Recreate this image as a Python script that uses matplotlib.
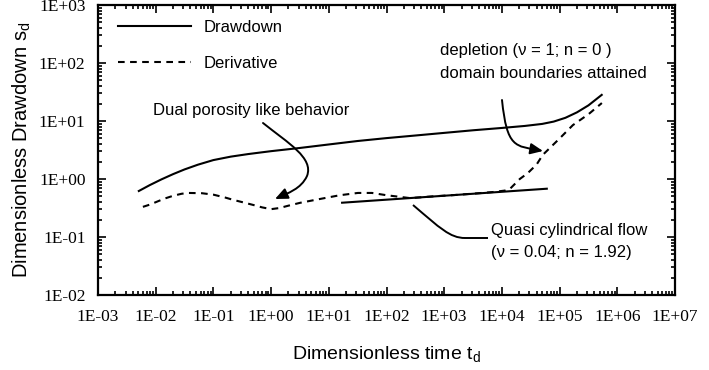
import matplotlib
matplotlib.use("Agg")
import matplotlib.pyplot as plt
from matplotlib.path import Path
from matplotlib.patches import FancyArrowPatch, PathPatch
from matplotlib.ticker import FixedLocator, FixedFormatter, LogLocator, NullFormatter

# ---------------- data ----------------
t_drawdown = [0.0051, 0.0079, 0.0126, 0.02, 0.0316, 0.054, 0.1, 0.2, 0.4,
              0.63, 1, 3.16, 10, 31.6, 100, 316, 1000, 3162, 1e4, 2.5e4, 5e4,
              7.9e4, 1.26e5, 2e5, 3.16e5, 5.37e5]
s_drawdown = [0.621, 0.785, 0.986, 1.213, 1.462, 1.766, 2.12, 2.43, 2.69,
              2.85, 3.02, 3.43, 3.94, 4.52, 5.07, 5.62, 6.24, 6.92, 7.59,
              8.22, 8.91, 9.77, 11.35, 14.1, 18.6, 28.2]

t_deriv = [0.006, 0.008, 0.01, 0.014, 0.02, 0.028, 0.036, 0.063, 0.1, 0.16,
           0.22, 0.32, 0.5, 0.7, 1.0, 1.4, 2.0, 3.2, 7, 15.5, 32, 56, 100,
           257, 630, 1600, 4000, 7000, 11200, 13800, 20400, 28000, 40000,
           51000, 1e5, 1.7e5, 3.2e5, 5.4e5]
s_deriv = [0.331, 0.363, 0.398, 0.457, 0.513, 0.556, 0.575, 0.569, 0.537,
           0.479, 0.437, 0.398, 0.355, 0.324, 0.302, 0.316, 0.347, 0.389,
           0.452, 0.525, 0.575, 0.575, 0.525, 0.468, 0.501, 0.531, 0.569,
           0.596, 0.631, 0.676, 1.0, 1.26, 1.78, 2.6, 5.0, 8.5, 13.2, 20.4]

t_quasi = [17, 60000]
s_quasi = [0.39, 0.68]

x_ticks = [1e-3, 1e-2, 1e-1, 1e0, 1e1, 1e2, 1e3, 1e4, 1e5, 1e6, 1e7]
x_ticklabels = ["1E-03", "1E-02", "1E-01", "1E+00", "1E+01", "1E+02",
                "1E+03", "1E+04", "1E+05", "1E+06", "1E+07"]
y_ticks = [1e-2, 1e-1, 1e0, 1e1, 1e2, 1e3]
y_ticklabels = ["1E-02", "1E-01", "1E+00", "1E+01", "1E+02", "1E+03"]

# ---------------- figure ----------------
W, H = 709, 370
fig = plt.figure(figsize=(W / 100, H / 100), dpi=100)
L, R, B, T = 98, 675, 295, 5
ax = fig.add_axes([L / W, 1 - B / H, (R - L) / W, (B - T) / H])

sans = "Liberation Sans"
serif = "Liberation Serif"

ax.plot(t_drawdown, s_drawdown, color="black", lw=1.5, label="Drawdown")
ax.plot(t_deriv, s_deriv, color="black", lw=1.5, ls=(0, (3.2, 2.6)),
        label="Derivative")
ax.plot(t_quasi, s_quasi, color="black", lw=1.5)

ax.set_xscale("log")
ax.set_yscale("log")
ax.set_xlim(1e-3, 1e7)
ax.set_ylim(1e-2, 1e3)

ax.xaxis.set_major_locator(FixedLocator(x_ticks))
ax.xaxis.set_major_formatter(FixedFormatter(x_ticklabels))
ax.yaxis.set_major_locator(FixedLocator(y_ticks))
ax.yaxis.set_major_formatter(FixedFormatter(y_ticklabels))
ax.xaxis.set_minor_locator(LogLocator(base=10, subs=range(2, 10), numticks=20))
ax.yaxis.set_minor_locator(LogLocator(base=10, subs=range(2, 10), numticks=20))
ax.xaxis.set_minor_formatter(NullFormatter())
ax.yaxis.set_minor_formatter(NullFormatter())

ax.tick_params(which="both", direction="in", top=True, right=True,
               color="black", width=1.2)
ax.tick_params(which="major", length=6)
ax.tick_params(which="minor", length=3)
ax.tick_params(axis="x", which="major", pad=10)
ax.tick_params(axis="y", which="major", pad=9)
for lab in ax.get_xticklabels() + ax.get_yticklabels():
    lab.set_fontfamily(serif)
    lab.set_fontsize(12.5)
for sp in ax.spines.values():
    sp.set_linewidth(1.6)

ax.set_xlabel("Dimensionless time t$_\\mathregular{d}$", fontfamily=sans,
              fontsize=14, labelpad=14)
ax.set_ylabel("Dimensionless Drawdown s$_\\mathregular{d}$", fontfamily=sans,
              fontsize=14.5, labelpad=4)

leg = ax.legend(loc="upper left", frameon=False, handlelength=4.4,
                handletextpad=0.75, labelspacing=1.22,
                bbox_to_anchor=(0.008, 0.999),
                prop={"family": sans, "size": 12})

# ---------------- annotations (axes-fraction coordinates) ----------------
def fr(px, py):
    return ((px - L) / (R - L), (B - py) / (B - T))

tkw = dict(transform=ax.transAxes, fontfamily=sans, fontsize=12,
           va="center", ha="left")
ax.text(*fr(153, 111), "Dual porosity like behavior", **tkw)
ax.text(*fr(440, 51), "depletion (\u03bd = 1; n = 0 )", **tkw)
ax.text(*fr(440, 73), "domain boundaries attained", **tkw)
ax.text(*fr(491, 230), "Quasi cylindrical flow", **tkw)
ax.text(*fr(491, 252), "(\u03bd = 0.04; n = 1.92)", **tkw)

arrow_style = "-|>,head_length=0.5,head_width=0.22"

p1 = Path([fr(263, 123), fr(288, 143), fr(314, 158), fr(307, 176),
           fr(301, 189), fr(288, 193), fr(275, 199)],
          [Path.MOVETO, Path.CURVE4, Path.CURVE4, Path.CURVE4,
           Path.CURVE4, Path.CURVE4, Path.CURVE4])
ax.add_patch(FancyArrowPatch(path=p1, arrowstyle=arrow_style,
                             mutation_scale=15, color="black", lw=1.4,
                             transform=ax.transAxes))

p2 = Path([fr(502, 100), fr(507, 148), fr(515, 146), fr(543, 151)],
          [Path.MOVETO, Path.CURVE4, Path.CURVE4, Path.CURVE4])
ax.add_patch(FancyArrowPatch(path=p2, arrowstyle=arrow_style,
                             mutation_scale=15, color="black", lw=1.4,
                             transform=ax.transAxes))

p3 = Path([fr(413, 205), fr(440, 228), fr(450, 238), fr(465, 238),
           fr(488, 238)],
          [Path.MOVETO, Path.CURVE4, Path.CURVE4, Path.CURVE4, Path.LINETO])
ax.add_patch(PathPatch(p3, facecolor="none", edgecolor="black", lw=1.4,
                       transform=ax.transAxes))

fig.savefig("out.png", dpi=100)
